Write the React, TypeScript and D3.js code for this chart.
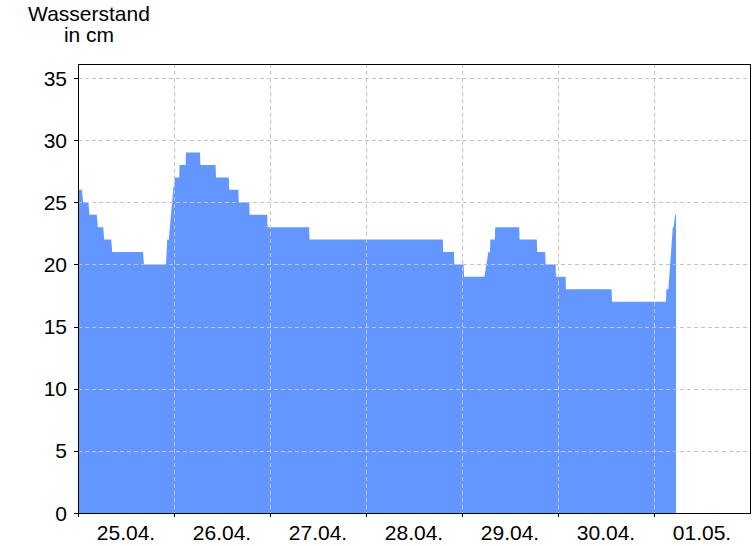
import React from "react";
import * as d3 from "d3";

// hours since 25.04. 00:00
const hours = [
  0, 1.0, 1.25, 2.6, 2.85, 4.7, 4.95, 6.3, 6.55, 8.3, 8.55, 16.25, 16.5, 22.0, 22.3, 22.7, 23.8, 24.3,
  25.3, 25.4, 26.9, 27.0, 30.5, 30.6, 34.4, 34.5, 37.7, 37.8, 40.1, 40.2, 42.8, 42.9, 47.3, 47.4,
  57.75, 57.9, 91.2, 91.3, 94.0, 94.1, 96.4, 96.5, 101.6, 102.6, 103.0, 103.1, 104.2, 104.3,
  110.3, 110.4, 114.7, 114.8, 116.8, 116.9, 119.4, 119.5, 121.9, 122.0, 133.4, 133.5, 147.0, 147.1,
  147.6, 148.7, 148.9, 149.3, 149.5,
];
const levels = [
  26, 26, 25, 25, 24, 24, 23, 23, 22, 22, 21, 21, 20, 20, 22, 22, 26, 27,
  27, 28, 28, 29, 29, 28, 28, 27, 27, 26, 26, 25, 25, 24, 24, 23,
  23, 22, 22, 21, 21, 20, 20, 19, 19, 21, 21, 22, 22, 23,
  23, 22, 22, 21, 21, 20, 20, 19, 19, 18, 18, 17, 17, 18,
  18, 23, 23, 24, 24,
];
const dayLabels = ["25.04.", "26.04.", "27.04.", "28.04.", "29.04.", "30.04.", "01.05."];
const yTicks = [0, 5, 10, 15, 20, 25, 30, 35];
const titleLines = ["Wasserstand", "in cm"];

const W = 756, H = 546;
const left = 78, right = 750, top = 64, bottom = 513;
const FONT = "'Liberation Sans', Arial, sans-serif";
const FS = 21;

export default function App() {
  const x = d3.scaleLinear().domain([0, 7 * 24]).range([left, right]);
  const y = d3.scaleLinear().domain([0, 35]).range([bottom, 78]);
  const pts = hours.map((h, i) => [h, levels[i]] as [number, number]);
  const area = d3
    .area<[number, number]>()
    .x((d) => x(d[0]))
    .y0(bottom)
    .y1((d) => y(d[1]))
    .curve(d3.curveLinear);
  const days = d3.range(0, 8);
  return (
    <svg width={W} height={H} style={{ position: "absolute", left: 0, top: 0 }} fontFamily={FONT}>
      <rect x={0} y={0} width={W} height={H} fill="#fff" />
      {titleLines.map((t, i) => (
        <text key={t} x={89} y={20.5 + i * 21} fontSize={FS} textAnchor="middle" fill="#000">
          {t}
        </text>
      ))}
      <path d={area(pts) || ""} fill="#6496ff" />
      {yTicks.map((v) => (
        <line key={"gy" + v} x1={left} x2={right} y1={Math.round(y(v)) + 0.5} y2={Math.round(y(v)) + 0.5}
          stroke="#c4c4c4" strokeDasharray="4,3" />
      ))}
      {days.slice(1, 7).map((d) => (
        <line key={"gx" + d} x1={Math.round(x(d * 24)) + 0.5} x2={Math.round(x(d * 24)) + 0.5} y1={top} y2={bottom}
          stroke="#c4c4c4" strokeDasharray="4,3" />
      ))}
      <rect x={left + 0.5} y={top + 0.5} width={right - left} height={bottom - top} fill="none" stroke="#000" />
      {yTicks.map((v) => (
        <g key={"ty" + v}>
          <line x1={left - 4} x2={left} y1={Math.round(y(v)) + 0.5} y2={Math.round(y(v)) + 0.5} stroke="#000" />
          <text x={67} y={y(v) + 7.5} fontSize={FS} textAnchor="end" fill="#000">{v}</text>
        </g>
      ))}
      {days.slice(0, 7).map((d) => (
        <line key={"tx" + d} x1={Math.round(x(d * 24)) + 0.5} x2={Math.round(x(d * 24)) + 0.5} y1={bottom} y2={bottom + 4} stroke="#000" />
      ))}
      {dayLabels.map((l, i) => (
        <text key={l} x={x(i * 24 + 12)} y={540} fontSize={FS} textAnchor="middle" fill="#000">{l}</text>
      ))}
    </svg>
  );
}
